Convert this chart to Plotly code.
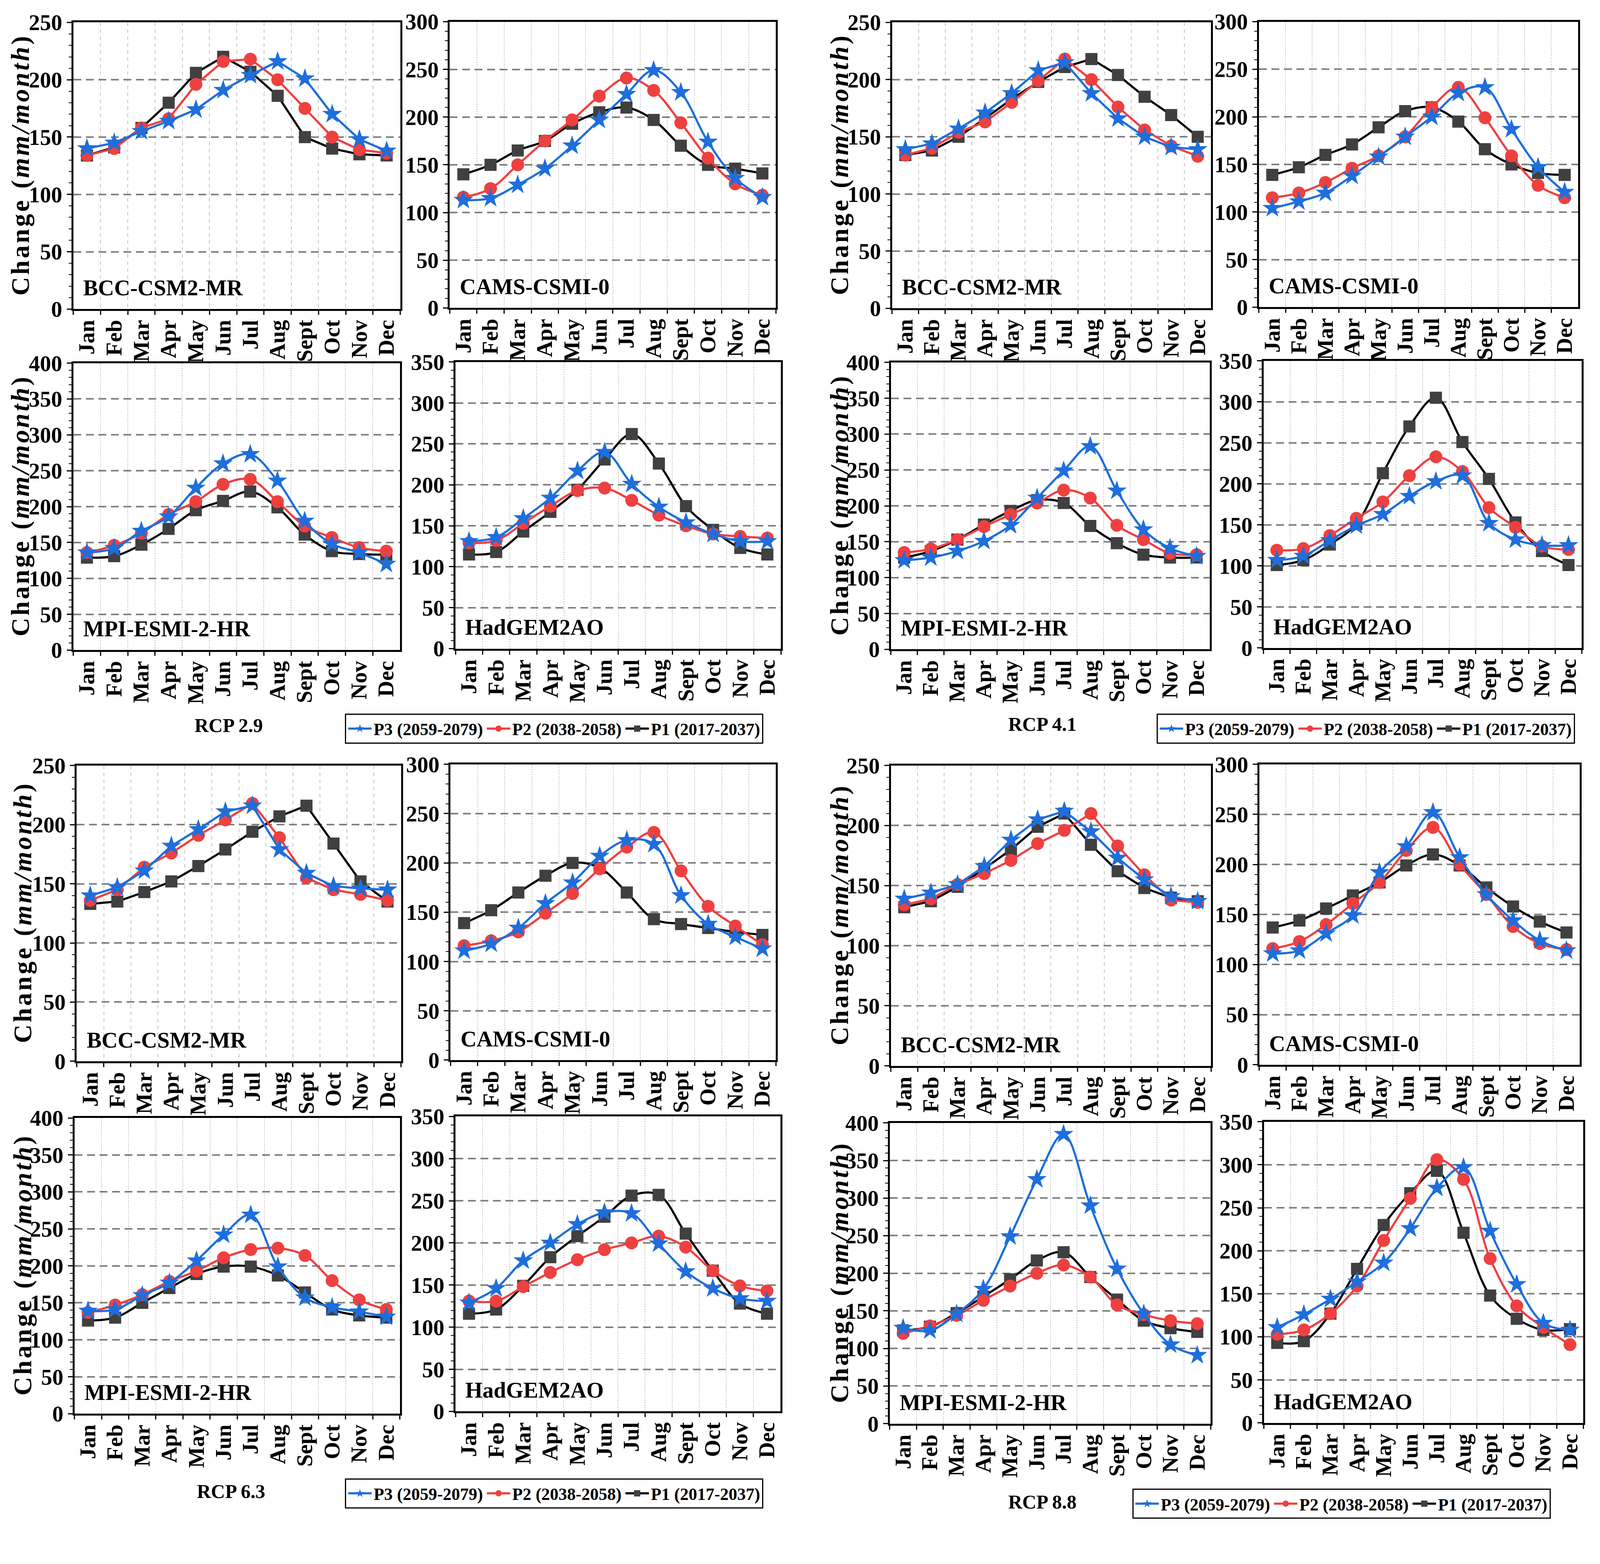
import plotly.graph_objects as go

W, H = 4201, 4004

MONTHS = ["Jan", "Feb", "Mar", "Apr", "May", "Jun", "Jul", "Aug", "Sept", "Oct", "Nov", "Dec"]
PERIODS = ["P1 (2017-2037)", "P2 (2038-2058)", "P3 (2059-2079)"]
SCENARIOS = ["RCP 2.9", "RCP 4.1", "RCP 6.3", "RCP 8.8"]
MODELS = ["BCC-CSM2-MR", "CAMS-CSMI-0", "MPI-ESMI-2-HR", "HadGEM2AO"]
Y_MAX = [250, 300, 400, 350]

# RCP 2.9
rcp29_bcc_p1 = [134, 141, 158, 180, 206, 220, 207, 186, 150, 140, 135, 134]
rcp29_bcc_p2 = [134, 140, 158, 166, 196, 216, 218, 200, 175, 150, 139, 136]
rcp29_bcc_p3 = [140, 145, 155, 164, 174, 191, 204, 216, 201, 170, 148, 138]
rcp29_cams_p1 = [140, 150, 165, 175, 193, 205, 210, 197, 170, 150, 146, 141]
rcp29_cams_p2 = [116, 125, 150, 175, 197, 222, 241, 228, 194, 157, 130, 118]
rcp29_cams_p3 = [113, 115, 129, 146, 170, 197, 224, 249, 226, 174, 136, 116]
rcp29_mpi_p1 = [129, 131, 147, 169, 195, 208, 221, 199, 161, 138, 134, 133]
rcp29_mpi_p2 = [136, 146, 163, 189, 207, 231, 238, 207, 173, 157, 143, 138]
rcp29_mpi_p3 = [136, 142, 166, 186, 226, 260, 273, 236, 180, 148, 136, 120]
rcp29_had_p1 = [115, 118, 143, 167, 194, 231, 262, 226, 174, 145, 123, 115]
rcp29_had_p2 = [129, 132, 153, 174, 193, 196, 181, 163, 150, 140, 137, 135]
rcp29_had_p3 = [131, 136, 159, 184, 217, 240, 201, 173, 154, 140, 131, 131]

# RCP 4.1
rcp41_bcc_p1 = [134, 138, 150, 166, 183, 198, 211, 218, 204, 185, 169, 150]
rcp41_bcc_p2 = [134, 140, 154, 163, 180, 199, 218, 200, 176, 156, 142, 133]
rcp41_bcc_p3 = [139, 144, 157, 171, 188, 208, 215, 188, 166, 150, 141, 139]
rcp41_cams_p1 = [139, 147, 160, 171, 189, 206, 210, 195, 166, 150, 141, 139]
rcp41_cams_p2 = [115, 120, 131, 146, 159, 179, 210, 231, 199, 159, 128, 115]
rcp41_cams_p3 = [104, 111, 120, 138, 158, 179, 200, 225, 231, 187, 147, 121]
rcp41_mpi_p1 = [128, 137, 153, 174, 193, 208, 204, 172, 148, 132, 128, 128]
rcp41_mpi_p2 = [135, 140, 153, 171, 188, 204, 222, 211, 173, 153, 134, 132]
rcp41_mpi_p3 = [124, 128, 137, 151, 173, 211, 249, 283, 221, 167, 141, 130]
rcp41_had_p1 = [101, 107, 126, 151, 213, 270, 305, 251, 206, 153, 118, 101]
rcp41_had_p2 = [119, 121, 137, 158, 178, 210, 233, 215, 171, 147, 124, 120]
rcp41_had_p3 = [107, 112, 131, 149, 163, 185, 203, 210, 152, 132, 125, 125]

# RCP 6.3
rcp63_bcc_p1 = [133, 135, 143, 152, 165, 179, 194, 207, 216, 184, 152, 135]
rcp63_bcc_p2 = [136, 145, 164, 176, 191, 204, 218, 189, 155, 145, 141, 136]
rcp63_bcc_p3 = [140, 147, 161, 182, 196, 211, 216, 179, 159, 148, 146, 145]
rcp63_cams_p1 = [139, 152, 170, 187, 200, 195, 170, 143, 138, 134, 130, 127]
rcp63_cams_p2 = [116, 121, 130, 149, 169, 194, 216, 231, 192, 156, 136, 117]
rcp63_cams_p3 = [111, 118, 134, 159, 180, 207, 223, 219, 167, 138, 125, 113]
rcp63_mpi_p1 = [126, 130, 150, 170, 189, 199, 199, 187, 164, 141, 133, 130]
rcp63_mpi_p2 = [137, 147, 161, 179, 193, 211, 222, 224, 214, 180, 154, 141]
rcp63_mpi_p3 = [139, 141, 160, 177, 207, 242, 269, 199, 157, 144, 138, 131]
rcp63_had_p1 = [116, 121, 149, 183, 208, 231, 256, 257, 211, 167, 128, 116]
rcp63_had_p2 = [131, 131, 148, 165, 180, 192, 200, 208, 195, 167, 149, 143]
rcp63_had_p3 = [129, 146, 179, 200, 222, 236, 235, 199, 166, 146, 134, 131]

# RCP 8.8
rcp88_bcc_p1 = [132, 137, 149, 164, 180, 199, 210, 184, 162, 148, 140, 137]
rcp88_bcc_p2 = [134, 139, 151, 160, 171, 185, 196, 210, 183, 159, 138, 136]
rcp88_bcc_p3 = [139, 144, 151, 166, 188, 205, 212, 195, 173, 155, 141, 137]
rcp88_cams_p1 = [137, 144, 156, 169, 182, 199, 210, 199, 177, 158, 143, 132]
rcp88_cams_p2 = [116, 123, 140, 161, 182, 214, 237, 200, 170, 138, 121, 115]
rcp88_cams_p3 = [111, 114, 131, 149, 192, 218, 252, 207, 170, 144, 124, 114]
rcp88_mpi_p1 = [124, 129, 147, 169, 192, 217, 228, 195, 165, 137, 127, 122]
rcp88_mpi_p2 = [120, 130, 144, 164, 183, 200, 211, 195, 158, 145, 137, 133]
rcp88_mpi_p3 = [127, 124, 146, 179, 249, 325, 385, 290, 206, 146, 105, 91]
rcp88_had_p1 = [93, 95, 127, 179, 230, 267, 293, 221, 148, 121, 108, 109]
rcp88_had_p2 = [103, 108, 127, 159, 212, 261, 306, 283, 191, 136, 111, 91]
rcp88_had_p3 = [111, 126, 144, 164, 186, 226, 273, 297, 223, 161, 116, 108]

DATA = [
    [(rcp29_bcc_p1, rcp29_bcc_p2, rcp29_bcc_p3), (rcp29_cams_p1, rcp29_cams_p2, rcp29_cams_p3),
     (rcp29_mpi_p1, rcp29_mpi_p2, rcp29_mpi_p3), (rcp29_had_p1, rcp29_had_p2, rcp29_had_p3)],
    [(rcp41_bcc_p1, rcp41_bcc_p2, rcp41_bcc_p3), (rcp41_cams_p1, rcp41_cams_p2, rcp41_cams_p3),
     (rcp41_mpi_p1, rcp41_mpi_p2, rcp41_mpi_p3), (rcp41_had_p1, rcp41_had_p2, rcp41_had_p3)],
    [(rcp63_bcc_p1, rcp63_bcc_p2, rcp63_bcc_p3), (rcp63_cams_p1, rcp63_cams_p2, rcp63_cams_p3),
     (rcp63_mpi_p1, rcp63_mpi_p2, rcp63_mpi_p3), (rcp63_had_p1, rcp63_had_p2, rcp63_had_p3)],
    [(rcp88_bcc_p1, rcp88_bcc_p2, rcp88_bcc_p3), (rcp88_cams_p1, rcp88_cams_p2, rcp88_cams_p3),
     (rcp88_mpi_p1, rcp88_mpi_p2, rcp88_mpi_p3), (rcp88_had_p1, rcp88_had_p2, rcp88_had_p3)],
]

# plot boxes in pixels of the 4201x4004 reference: left, right, top, bottom
BOXES = [
    [(197, 1056, 56, 809), (1186, 2043, 54, 806), (197, 1055, 951, 1705), (1201, 2056, 948, 1701)],
    [(2348, 3186, 56, 807), (3312, 4150, 54, 804), (2345, 3183, 949, 1703), (3324, 4160, 945, 1699)],
    [(206, 1058, 2008, 2785), (1188, 2043, 2005, 2782), (200, 1055, 2934, 3711), (1201, 2055, 2930, 3705)],
    [(2345, 3186, 2008, 2797), (3313, 4155, 2005, 2794), (2342, 3185, 2947, 3737), (3325, 4164, 2944, 3735)],
]
LEGEND_POS = [(911, 1872), (3043, 1872), (911, 3881), (2979, 3908)]
LABEL_POS = [(605, 1903), (2743, 1900), (611, 3915), (2743, 3943)]
YTITLE_X = [58, 2210, 64, 2210]

FONT = "Liberation Serif"
COLORS = ["#404040", "#EF4040", "#1E6EDC"]
LINE_COLORS = ["#000000", "#EF4040", "#1E6EDC"]
SYMBOLS = ["square", "circle", "star"]
SIZES = [31, 33, 38]


# page offset seen in the rendered picture is compensated here
def fx(p):
    return (1.0033 * p - 12.6) / W


def fy(p):
    return 1 - (0.9901 * p - 36.7) / H


fig = go.Figure()
annotations = []
legend_names = ["legend", "legend2", "legend3", "legend4"]

n = 0
for g in range(4):
    for m in range(4):
        n += 1
        sfx = "" if n == 1 else str(n)
        left, right, top, bottom = BOXES[g][m]
        smooth = m != 0
        for k in range(3):
            fig.add_trace(go.Scatter(
                x=MONTHS, y=DATA[g][m][k], name=PERIODS[k],
                mode="lines+markers",
                line=dict(color=LINE_COLORS[k], width=5.5, shape="spline" if smooth else "linear"),
                marker=dict(symbol=SYMBOLS[k], size=SIZES[k], color=COLORS[k], line=dict(width=0)),
                xaxis="x" + sfx, yaxis="y" + sfx,
                legend=legend_names[g], showlegend=(m == 0),
            ))
        fig.layout["xaxis" + sfx] = dict(
            domain=[fx(left), fx(right)], anchor="y" + sfx,
            type="category", range=[-0.5, 11.5], tickson="boundaries",
            tickmode="linear", tick0=0, dtick=1,
            showgrid=True, gridcolor="#c4c4c4", gridwidth=2,
            griddash="dash" if m == 0 else "dot",
            showline=True, linecolor="black", linewidth=5, mirror=True,
            ticks="outside", ticklen=10, tickwidth=3, tickcolor="black",
            tickangle=-90, tickfont=dict(family=FONT, size=57, color="black", weight="bold"),
        )
        fig.layout["yaxis" + sfx] = dict(
            domain=[fy(bottom), fy(top)], anchor="x" + sfx,
            range=[0, Y_MAX[m]], dtick=50, tick0=0,
            showgrid=True, gridcolor="#7f7f7f", gridwidth=4, griddash="20px,12px",
            zeroline=False,
            showline=True, linecolor="black", linewidth=5, mirror=True,
            ticks="outside", ticklen=12, tickwidth=3, tickcolor="black",
            minor=dict(dtick=10, ticks="outside", ticklen=7, tickwidth=2, tickcolor="black", showgrid=False),
            tickfont=dict(family=FONT, size=57, color="black", weight="bold"),
        )
        annotations.append(dict(
            x=fx(left + 24), y=fy(bottom - 56), xref="paper", yref="paper",
            xanchor="left", yanchor="middle", showarrow=False,
            text=MODELS[m], font=dict(family=FONT, size=57, color="black", weight="bold"),
        ))
        if m in (0, 2):
            annotations.append(dict(
                x=fx(YTITLE_X[g]), y=fy((top + bottom) / 2), xref="paper", yref="paper",
                xanchor="center", yanchor="middle", showarrow=False, textangle=-90,
                text="C\u200ah\u200aa\u200an\u200ag\u200ae\u2009 (\u200a<i>m\u200am\u200a/\u200am\u200ao\u200an\u200at\u200ah</i>\u200a)",
                font=dict(family=FONT, size=66, color="black", weight="bold"),
            ))
    lx, ly = LABEL_POS[g]
    annotations.append(dict(
        x=fx(lx), y=fy(ly), xref="paper", yref="paper",
        xanchor="center", yanchor="middle", showarrow=False,
        text=SCENARIOS[g], font=dict(family=FONT, size=50, color="black", weight="bold"),
    ))
    gx, gy = LEGEND_POS[g]
    fig.layout[legend_names[g]] = dict(
        x=fx(gx), y=fy(gy), xanchor="left", yanchor="top",
        orientation="h", traceorder="reversed",
        bordercolor="black", borderwidth=3, bgcolor="white",
        font=dict(family=FONT, size=44, color="black", weight="bold"),
        itemwidth=60, tracegroupgap=0,
    )

fig.update_layout(
    autosize=True, margin=dict(l=0, r=0, t=0, b=0),
    paper_bgcolor="white", plot_bgcolor="white",
    annotations=annotations,
)

fig.write_html("out.html", default_width="100%", default_height="100vh")
